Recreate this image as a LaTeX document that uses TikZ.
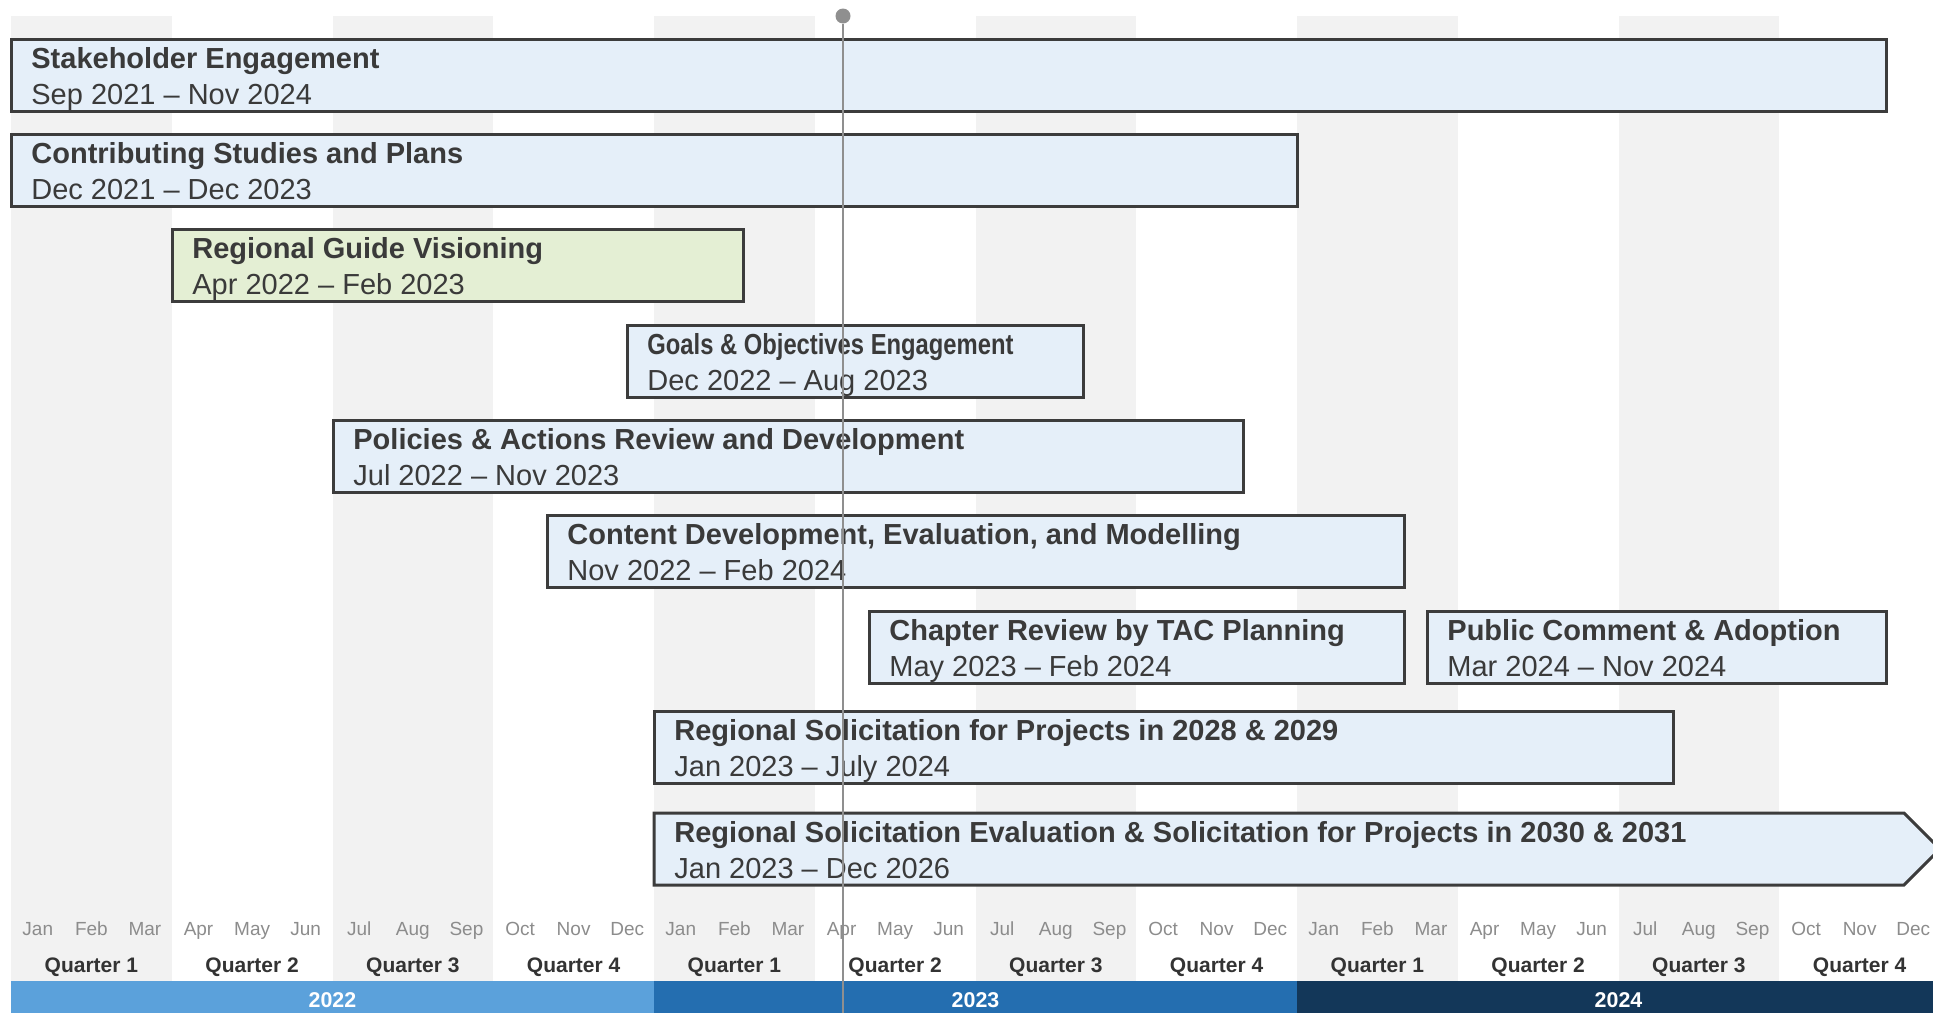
\documentclass[tikz,border=0pt]{standalone}
\usepackage{fontspec}
\setmainfont{Liberation Sans}
\newfontfamily\narrowfont[FakeStretch=0.82]{Liberation Sans}
\definecolor{boxfill}{HTML}{E5EFF9}
\definecolor{greenfill}{HTML}{E4EFD4}
\definecolor{boxline}{HTML}{3C3C3C}
\definecolor{txt}{HTML}{3A3A3A}
\definecolor{colgray}{HTML}{F2F2F2}
\definecolor{monthgray}{HTML}{8C8C8C}
\definecolor{qtxt}{HTML}{333333}
\definecolor{yrA}{HTML}{5BA1DB}
\definecolor{yrB}{HTML}{246EB0}
\definecolor{yrC}{HTML}{133759}
\definecolor{todaygray}{HTML}{8F8F8F}
\newcommand\ganttbar[8]{%
  \node[barbox, fill=#5, minimum width={(#3-#2)*0.5pt}] (#1) at (#2,#4) {};
  \node[ttl] (#1t) at ({#2+20},{#4+29}) {#6#7};
  \node[dte] (#1d) at ({#2+20},{#4+65}) {#8};
}
\begin{document}
\begin{tikzpicture}[x=0.5pt,y=-0.5pt,
  barbox/.style={rectangle, draw=boxline, line width=1.5pt, inner sep=0pt, outer sep=0pt,
    anchor=north west, minimum height=36pt},
  ttl/.style={anchor=base west, inner sep=0pt, text=txt, font=\fontsize{14.5}{17}\selectfont\bfseries},
  dte/.style={anchor=base west, inner sep=0pt, text=txt, font=\fontsize{14.5}{17}\selectfont},
  monthlbl/.style={anchor=base, inner sep=0pt, text=monthgray, font=\fontsize{9.5}{11}\selectfont},
  qlbl/.style={anchor=base, inner sep=0pt, text=qtxt, font=\fontsize{10.5}{12}\selectfont\bfseries},
  yrbar/.style={rectangle, inner sep=0pt, outer sep=0pt, anchor=north west, minimum width=321.5pt, minimum height=16pt},
  yrlbl/.style={anchor=base, inner sep=0pt, text=white, font=\fontsize{10.7}{12}\selectfont\bfseries},
  colband/.style={rectangle, fill=colgray, inner sep=0pt, outer sep=0pt, anchor=north west, minimum width=80.375pt, minimum height=482.5pt}
]
\useasboundingbox (0,0) rectangle (1933,1013);
% quarter bands
\foreach \k in {0,2,4,6,8,10}
  \node[colband] (band\k) at ({11+\k*160.75},16) {};
% month labels
\foreach \m [count=\i from 0] in {Jan,Feb,Mar,Apr,May,Jun,Jul,Aug,Sep,Oct,Nov,Dec,Jan,Feb,Mar,Apr,May,Jun,Jul,Aug,Sep,Oct,Nov,Dec,Jan,Feb,Mar,Apr,May,Jun,Jul,Aug,Sep,Oct,Nov,Dec}
  \node[monthlbl] (m\i) at ({11+(\i+0.5)*53.5833},935) {\m};
% quarter labels
\foreach \q [count=\i from 0] in {1,2,3,4,1,2,3,4,1,2,3,4}
  \node[qlbl] (q\i) at ({11+(\i+0.5)*160.75},972) {Quarter \q};
% year bars
\node[yrbar, fill=yrA] (y2022) at (11,981) {};
\node[yrbar, fill=yrB] (y2023) at (654,981) {};
\node[yrbar, fill=yrC] (y2024) at (1297,981) {};
\node[yrlbl] (y2022t) at (332.5,1007) {2022};
\node[yrlbl] (y2023t) at (975.5,1007) {2023};
\node[yrlbl] (y2024t) at (1618.5,1007) {2024};
% bars
\ganttbar{b1}{11}{1886}{39}{boxfill}{}{Stakeholder Engagement}{Sep 2021 \textendash{} Nov 2024}
\ganttbar{b2}{11}{1297}{134}{boxfill}{}{Contributing Studies and Plans}{Dec 2021 \textendash{} Dec 2023}
\ganttbar{b3}{172}{743}{229}{greenfill}{}{Regional Guide Visioning}{Apr 2022 \textendash{} Feb 2023}
\ganttbar{b4}{627}{1083}{325}{boxfill}{\narrowfont}{Goals \& Objectives Engagement}{Dec 2022 \textendash{} Aug 2023}
\ganttbar{b5}{333}{1243}{420}{boxfill}{}{Policies \& Actions Review and Development}{Jul 2022 \textendash{} Nov 2023}
\ganttbar{b6}{547}{1404}{515}{boxfill}{}{Content Development, Evaluation, and Modelling}{Nov 2022 \textendash{} Feb 2024}
\ganttbar{b7}{869}{1404}{611}{boxfill}{}{Chapter Review by TAC Planning}{May 2023 \textendash{} Feb 2024}
\ganttbar{b8}{1427}{1886}{611}{boxfill}{}{Public Comment \& Adoption}{Mar 2024 \textendash{} Nov 2024}
\ganttbar{b9}{654}{1673}{711}{boxfill}{}{Regional Solicitation for Projects in 2028 \& 2029}{Jan 2023 \textendash{} July 2024}
% arrow-shaped bar
\draw[draw=boxline, line width=1.5pt, fill=boxfill, line join=miter]
  (654,813) -- (1904,813) -- (1940,849) -- (1904,885) -- (654,885) -- cycle;
\node[ttl] (b10t) at (674,842) {Regional Solicitation Evaluation \& Solicitation for Projects in 2030 \& 2031};
\node[dte] (b10d) at (674,878) {Jan 2023 \textendash{} Dec 2026};
% today marker
\node[circle, fill=todaygray, inner sep=0pt, minimum size=7.5pt] (today) at (843,16) {};
\coordinate (todayend) at (843,1013);
\draw[todaygray, line width=1pt] (today) -- (todayend);
\end{tikzpicture}
\end{document}
